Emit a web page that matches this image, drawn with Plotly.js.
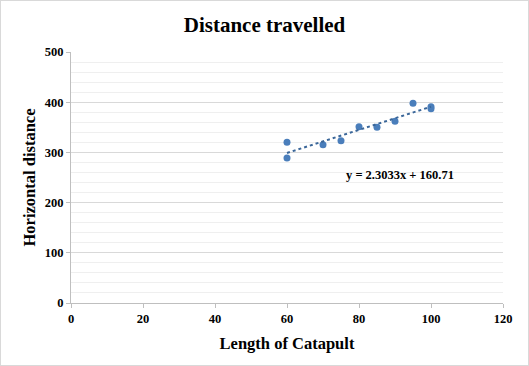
<!DOCTYPE html>
<html><head><meta charset="utf-8">
<script src="https://cdn.plot.ly/plotly-3.0.1.min.js"></script>
<style>html,body{margin:0;padding:0;background:#fff}#c{width:527px;height:364px;border:1px solid #d9d9d9}</style>
</head><body><div id="c"></div>
<script>
const lengths = [60, 60, 70, 75, 80, 85, 90, 95, 100, 100];
const distances = [320, 289, 315, 323, 351, 350, 362, 398, 391, 387];
const trendSlope = 2.3033;
const trendIntercept = 160.71;
const trendLabel = "y = 2.3033x + 160.71";
const xMin = Math.min(...lengths), xMax = Math.max(...lengths);
const trendX = [xMin, xMax];
const trendY = trendX.map(x => trendSlope * x + trendIntercept);
const font = "'Liberation Serif', 'Times New Roman', serif";
const data = [
  {x: lengths, y: distances, type: 'scatter', mode: 'markers',
   marker: {color: '#4a7ebb', size: 7}, hoverinfo: 'x+y'},
  {x: trendX, y: trendY, type: 'scatter', mode: 'lines',
   line: {color: '#3a6699', width: 2, dash: 'dot'}}
];
const layout = {
  width: 527, height: 364,
  margin: {l: 70, r: 25, t: 51, b: 62},
  showlegend: false,
  paper_bgcolor: '#fff', plot_bgcolor: '#fff',
  font: {family: font, color: '#000'},
  title: {text: '<b>Distance travelled</b>', font: {size: 21, family: font}, x: 0.5, xanchor: 'center', y: 0.935, yanchor: 'middle'},
  xaxis: {range: [0, 120], dtick: 20, showgrid: false, zeroline: false,
    showline: true, linecolor: '#bfbfbf', linewidth: 1,
    ticks: 'outside', ticklen: 4, tickcolor: '#bfbfbf',
    tickfont: {size: 12.5, family: font}, tickprefix: '<b>', ticksuffix: '</b>',
    title: {text: '<b>Length of Catapult</b>', font: {size: 16.5, family: font}, standoff: 12}},
  yaxis: {range: [0, 500], dtick: 100, showgrid: true, gridcolor: '#d9d9d9', gridwidth: 1,
    zeroline: false, showline: true, linecolor: '#bfbfbf', linewidth: 1,
    ticks: 'outside', ticklen: 4, tickcolor: '#bfbfbf',
    minor: {dtick: 20, showgrid: true, gridcolor: '#efefef', gridwidth: 1},
    tickfont: {size: 12.5, family: font}, tickprefix: '<b>', ticksuffix: '</b>',
    title: {text: '<b>Horizontal distance</b>', font: {size: 16.5, family: font}, standoff: 4}},
  annotations: [{x: 91.4, y: 255, xref: 'x', yref: 'y', text: '<b>' + trendLabel + '</b>',
    showarrow: false, font: {size: 12.5, family: font, color: '#000'}}]
};
Plotly.newPlot('c', data, layout, {displayModeBar: false, staticPlot: true});
</script></body></html>
